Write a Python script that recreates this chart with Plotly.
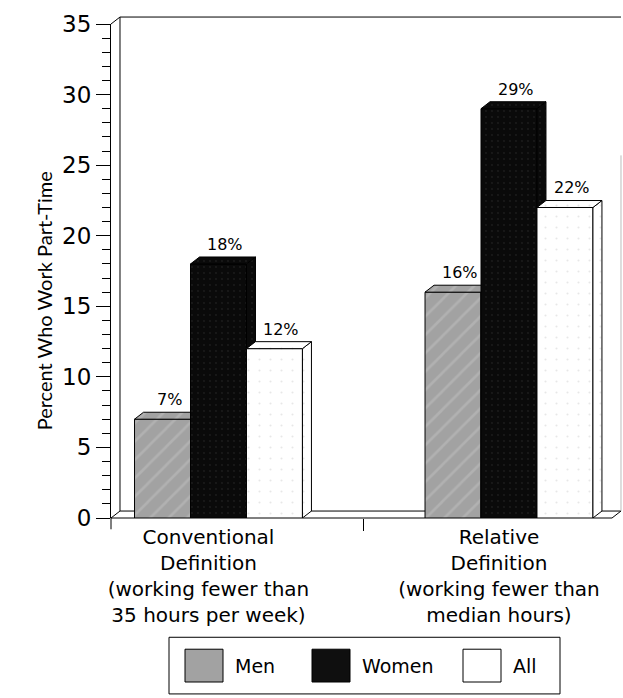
import plotly.graph_objects as go

# ---- data -------------------------------------------------------------
categories = [
    "Conventional<br>Definition<br>(working fewer than<br>35 hours per week)",
    "Relative<br>Definition<br>(working fewer than<br>median hours)",
]
series_names = ["Men", "Women", "All"]
men = [7, 16]
women = [18, 29]
all_workers = [12, 22]
y_tick_values = [0, 5, 10, 15, 20, 25, 30, 35]
y_title = "Percent Who Work Part-Time"

# ---- geometry ---------------------------------------------------------
W, H = 623, 698
ML, MR, MT, MB = 111, 11, 21, 180
PLOT_W = W - ML - MR
PLOT_H = H - MT - MB
X_RANGE = [-0.370, -0.370 + PLOT_W / 290.5]
Y_RANGE = [0, 35]
GROUP_W = 0.578
BAR_W = GROUP_W / 3
DEPTH_PX = (9, 7)  # 3-D depth offset in pixels (right, up)
DX = DEPTH_PX[0] * (X_RANGE[1] - X_RANGE[0]) / PLOT_W
DY = DEPTH_PX[1] * (Y_RANGE[1] - Y_RANGE[0]) / PLOT_H

FONT = "DejaVu Sans"

styles = [
    dict(bg="#a2a2a2", fg="#bfbfbf", shape="/", size=13, solidity=0.2),
    dict(bg="#0a0a0a", fg="#2e2e2e", shape=".", size=6, solidity=0.08),
    dict(bg="#ffffff", fg="#d0d0d0", shape=".", size=11, solidity=0.03),
]
swatch_colors = ["#a2a2a2", "#0f0f0f", "#ffffff"]


def to_paper_x(xv):
    return (xv - X_RANGE[0]) / (X_RANGE[1] - X_RANGE[0])


def to_paper_y(yv):
    return (yv - Y_RANGE[0]) / (Y_RANGE[1] - Y_RANGE[0])


def px_to_paper(px, py):
    return (px - ML) / PLOT_W, (H - MB - py) / PLOT_H


fig = go.Figure()

positions = list(range(len(categories)))
for i, (name, vals) in enumerate(zip(series_names, [men, women, all_workers])):
    st = styles[i]
    xa = "x" if i == 0 else f"x{i + 1}"
    ya = "y" if i == 0 else f"y{i + 1}"
    offset = -GROUP_W / 2 + i * BAR_W
    pattern = dict(shape=st["shape"], bgcolor=st["bg"], fgcolor=st["fg"],
                   size=st["size"], solidity=st["solidity"])
    fig.add_trace(go.Bar(
        x=positions, y=vals, width=BAR_W, offset=offset, name=name,
        marker=dict(color=st["bg"], pattern=pattern,
                    line=dict(color="black", width=1)),
        xaxis=xa, yaxis=ya, showlegend=False, hoverinfo="skip",
    ))
    # side and top faces of each box
    side_x, side_y, top_x, top_y = [], [], [], []
    for p, v in zip(positions, vals):
        x0 = p + offset
        x1 = x0 + BAR_W
        side_x += [x1, x1 + DX, x1 + DX, x1, x1, None]
        side_y += [0, DY, v + DY, v, 0, None]
        top_x += [x0, x0 + DX, x1 + DX, x1, x0, None]
        top_y += [v, v + DY, v + DY, v, v, None]
    for fx, fy in ((side_x, side_y), (top_x, top_y)):
        fig.add_trace(go.Scatter(
            x=fx, y=fy, mode="lines", fill="toself",
            fillcolor=st["bg"], fillpattern=pattern,
            line=dict(color="black", width=1),
            xaxis=xa, yaxis=ya, showlegend=False, hoverinfo="skip",
        ))
    # value labels
    for p, v in zip(positions, vals):
        fig.add_annotation(
            x=p + offset + BAR_W / 2, y=v, xref=xa, yref=ya,
            text=f"{v}%", showarrow=False, yanchor="bottom",
            xshift=7, yshift=8, font=dict(family=FONT, size=16, color="black"),
        )

# ---- 3-D frame (back wall and floor) -----------------------------------
xl, xr = X_RANGE
yt = Y_RANGE[1]


def path(points):
    return "M " + " L ".join(f"{to_paper_x(a):.5f},{to_paper_y(b):.5f}" for a, b in points)


frame = [
    [(xl, yt), (xl + DX, yt + DY), (xr + DX, yt + DY)],
    [(xl + DX, yt + DY), (xl + DX, DY), (xr + DX, DY)],
    [(xr + DX, DY), (xr + DX, yt * 0.72 + DY)],
    [(xl, 0), (xl + DX, DY)],
    [(xl, 0), (xr, 0), (xr + DX, DY)],
    [(xl, 0), (xl, -0.8)],
]
for k, pts in enumerate(frame):
    fig.add_shape(type="path", path=path(pts), xref="paper", yref="paper",
                  line=dict(color="#bbbbbb" if k == 2 else "black", width=1),
                  layer="below")

# ---- legend box --------------------------------------------------------
bx0, by0 = px_to_paper(169, 638)
bx1, by1 = px_to_paper(560, 695)
fig.add_shape(type="rect", xref="paper", yref="paper", x0=bx0, y0=by1, x1=bx1, y1=by0,
              line=dict(color="black", width=1), fillcolor="white")
swatch_left = [185, 312, 463]
for name, color, sx in zip(series_names, swatch_colors, swatch_left):
    sx0, sy0 = px_to_paper(sx, 650)
    sx1, sy1 = px_to_paper(sx + 38, 683)
    fig.add_shape(type="rect", xref="paper", yref="paper", x0=sx0, y0=sy1, x1=sx1, y1=sy0,
                  line=dict(color="black", width=1), fillcolor=color)
    tx, ty = px_to_paper(sx + 48, 667)
    fig.add_annotation(x=tx, y=ty, xref="paper", yref="paper", text=name,
                       showarrow=False, xanchor="left", yanchor="middle",
                       font=dict(family=FONT, size=19, color="black"))

# ---- y-axis title ------------------------------------------------------
tx, ty = px_to_paper(30, 300)
fig.add_annotation(x=tx, y=ty, xref="paper", yref="paper", text=y_title,
                   textangle=-90, showarrow=False,
                   font=dict(family="Lato", size=20, color="black"))

hidden = dict(visible=False, showgrid=False, zeroline=False)
fig.update_layout(
    width=W, height=H,
    margin=dict(l=ML, r=MR, t=MT, b=MB),
    paper_bgcolor="white", plot_bgcolor="rgba(0,0,0,0)",
    showlegend=False,
    xaxis=dict(range=X_RANGE, tickvals=positions, ticktext=categories, ticks="",
               showline=False, showgrid=False, zeroline=False,
               minor=dict(tickvals=[0.5], ticks="outside", ticklen=12,
                          tickcolor="black", tickwidth=1, showgrid=False),
               tickfont=dict(family=FONT, size=20, color="black"),
               ticklabelshift=-10, ticklabelstandoff=5),
    xaxis2=dict(range=X_RANGE, overlaying="x", anchor="y2", **hidden),
    xaxis3=dict(range=X_RANGE, overlaying="x", anchor="y3", **hidden),
    yaxis=dict(range=Y_RANGE, tickvals=y_tick_values, ticks="outside", ticklen=14,
               tickcolor="black", tickwidth=1, showline=True, linecolor="black",
               linewidth=1, showgrid=False, zeroline=False,
               minor=dict(dtick=1, ticks="outside", ticklen=8, tickcolor="black",
                          tickwidth=1, showgrid=False),
               tickfont=dict(family=FONT, size=23, color="black")),
    yaxis2=dict(range=Y_RANGE, overlaying="y", anchor="x2", **hidden),
    yaxis3=dict(range=Y_RANGE, overlaying="y", anchor="x3", **hidden),
)

fig.write_html("out.html")
